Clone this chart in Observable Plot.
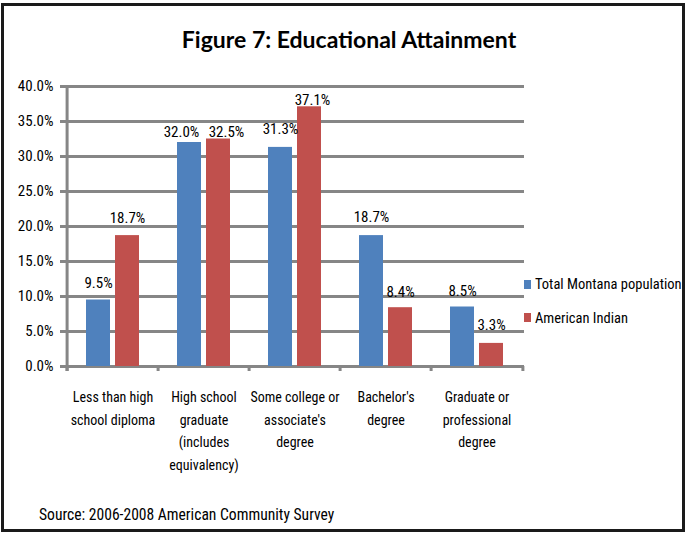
<!DOCTYPE html>
<html>
<head>
<meta charset="utf-8">
<script src="https://cdn.jsdelivr.net/npm/d3@7"></script>
<script src="https://cdn.jsdelivr.net/npm/@observablehq/plot@0.6"></script>
<style>
  body { margin: 0; background: #fff; }
  #wrap { position: relative; width: 686px; height: 533px; overflow: hidden;
    font-family: "Roboto Condensed", Roboto, sans-serif; font-stretch: condensed; color: #000; }
  #frame { position: absolute; left: 1px; top: 3px; width: 684px; height: 529px;
    box-sizing: border-box; border: 3px solid #1a1a1a; pointer-events: none; }
  #chart { position: absolute; left: 0; top: 0; }
  .abs { position: absolute; white-space: nowrap; }
  #title { left: 0; width: 698px; top: 28px; text-align: center; font-family: Lato, sans-serif; font-stretch: normal;
    font-weight: bold; font-size: 23px; line-height: 23px; }
  .lg { font-size: 14.5px; line-height: 14.5px; }
  .sw { position: absolute; width: 7px; height: 9px; }
  #source { left: 39px; top: 507.5px; font-size: 15.6px; line-height: 15.6px; }
</style>
</head>
<body>
<div id="wrap">
  <div id="chart"></div>
  <div id="title" class="abs"></div>
  <div id="legend"></div>
  <div id="source" class="abs"></div>
  <div id="frame"></div>
</div>
<script>
const titleText = "Figure 7: Educational Attainment";
const sourceText = "Source: 2006-2008 American Community Survey";
const categories = ["Less than high school diploma", "High school graduate (includes equivalency)", "Some college or associate's degree", "Bachelor's degree", "Graduate or professional degree"];
const categoryLabels = ["Less than high\nschool diploma", "High school\ngraduate\n(includes\nequivalency)", "Some college or\nassociate's\ndegree", "Bachelor's\ndegree", "Graduate or\nprofessional\ndegree"];
const seriesNames = ["Total Montana population", "American Indian"];
const seriesColors = ["#4F81BD", "#C0504D"];
const montana = [9.5, 32.0, 31.3, 18.7, 8.5];
const americanIndian = [18.7, 32.5, 37.1, 8.4, 3.3];
const yTicks = [0, 5, 10, 15, 20, 25, 30, 35, 40];
// pixel nudges of the value labels relative to the bar tops (style only)
const labelLiftM = [-17, -10, -18.7, -18.7, -15.5];
const labelLiftA = [-17, -6.5, -6.7, -15.5, -18];
const labelShiftM = [0, -8, 0, 0, 0];
const labelShiftA = [0, 8, 3, 0, 0];

const rowsM = categories.map((c, i) => ({category: c, value: montana[i]}));
const rowsA = categories.map((c, i) => ({category: c, value: americanIndian[i]}));
const labelOf = new Map(categories.map((c, i) => [c, categoryLabels[i]]));

const W = 686, H = 533;
const mL = 65, mR = 162, mT = 86, mB = 167;
const half = (W - mL - mR) / categories.length / 2;
const grid = "#868686";
const fmt = d => d.toFixed(1) + "%";
const FONT = '"Roboto Condensed", Roboto, sans-serif';

const valueLabels = [
  ...rowsM.map((r, i) => Plot.text([r], {x: "category", y: "value", text: d => fmt(d.value), dx: -14.5 + labelShiftM[i], dy: labelLiftM[i], fontSize: 15, fill: "#000"})),
  ...rowsA.map((r, i) => Plot.text([r], {x: "category", y: "value", text: d => fmt(d.value), dx: 14.5 + labelShiftA[i], dy: labelLiftA[i], fontSize: 15, fill: "#000"}))
];

const chart = Plot.plot({
  width: W, height: H,
  marginLeft: mL, marginRight: mR, marginTop: mT, marginBottom: mB,
  style: {fontFamily: FONT, fontStretch: "condensed", fontSize: "15px", color: "#000", background: "transparent"},
  x: {domain: categories, padding: 0, axis: null},
  y: {domain: [0, 40], axis: null},
  marks: [
    Plot.gridY(yTicks, {stroke: grid, strokeOpacity: 1, strokeWidth: 3}),
    Plot.axisY(yTicks, {tickSize: 5, tickPadding: 7, tickFormat: fmt, stroke: grid, strokeWidth: 3, fill: "#000", fontSize: 15, label: null}),
    Plot.barY(rowsM, {x: "category", y: "value", fill: seriesColors[0], insetLeft: 19, insetRight: 48}),
    Plot.barY(rowsA, {x: "category", y: "value", fill: seriesColors[1], insetLeft: 48, insetRight: 19}),
    Plot.ruleX(categories.slice(0, 1), {x: d => d, y1: 40, y2: 0, dx: -half, insetBottom: -5, stroke: grid, strokeWidth: 3}),
    Plot.ruleX(categories, {x: d => d, y1: 0, y2: 0, dx: -half, insetBottom: -5, stroke: grid, strokeWidth: 3}),
    Plot.ruleX(categories.slice(-1), {x: d => d, y1: 0, y2: 0, dx: half, insetBottom: -5, stroke: grid, strokeWidth: 3}),
    ...valueLabels,
    Plot.text(categories, {x: d => d, y: () => 0, text: d => labelOf.get(d), lineAnchor: "top", dy: 20, lineHeight: 1.6, fontSize: 14, fill: "#000"})
  ]
});
document.getElementById("chart").appendChild(chart);

document.getElementById("title").textContent = titleText;
document.getElementById("source").textContent = sourceText;

const legend = document.getElementById("legend");
const legendTops = [277.8, 311.8];
const swatchTops = [280, 313];
seriesNames.forEach((name, i) => {
  const sw = document.createElement("div");
  sw.className = "sw";
  sw.style.left = "524px";
  sw.style.top = swatchTops[i] + "px";
  sw.style.background = seriesColors[i];
  legend.appendChild(sw);
  const t = document.createElement("div");
  t.className = "abs lg";
  t.style.left = "535px";
  t.style.top = legendTops[i] + "px";
  t.textContent = name;
  legend.appendChild(t);
});
</script>
</body>
</html>
